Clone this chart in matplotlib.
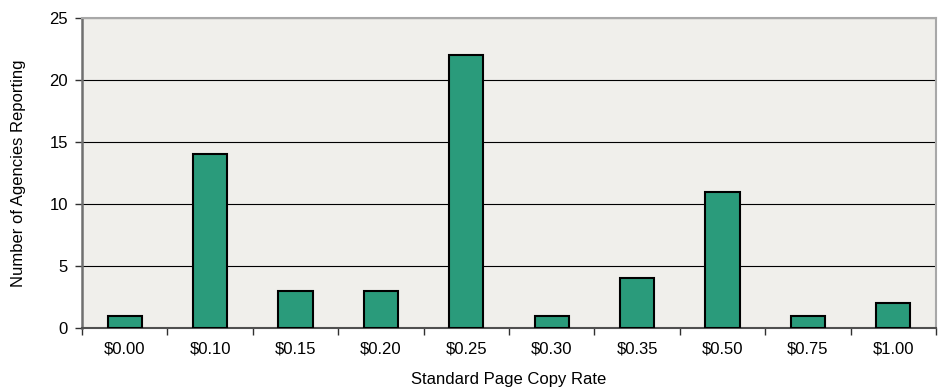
import matplotlib.pyplot as plt
import numpy as np

plt.rcParams['font.family'] = ['Liberation Sans', 'DejaVu Sans']

rates = ["$0.00", "$0.10", "$0.15", "$0.20", "$0.25", "$0.30", "$0.35", "$0.50", "$0.75", "$1.00"]
agencies = [1, 14, 3, 3, 22, 1, 4, 11, 1, 2]

fig = plt.figure(figsize=(9.4, 3.91), dpi=100)
ax = fig.add_axes([0.0872, 0.161, 0.9085, 0.793])
ax.set_facecolor("#F0EFEB")

x = np.arange(len(rates))
ax.bar(x, agencies, width=0.4, color="#2A9B7B", edgecolor="black", linewidth=1.5, zorder=3)

ax.set_xlim(-0.5, len(rates) - 0.5)
ax.set_ylim(0, 25)
ax.set_yticks(range(0, 26, 5))
ax.yaxis.grid(True, color="black", linewidth=0.8, zorder=1)

# category labels centered, tick marks between categories
ax.set_xticks(x)
ax.set_xticklabels(rates, fontsize=12)
ax.tick_params(axis="x", which="major", length=0, pad=10)
ax.set_xticks(np.arange(-0.5, len(rates)), minor=True)
ax.tick_params(axis="x", which="minor", length=5, width=1, color="#303030", direction="out")
ax.tick_params(axis="y", length=5, width=1, color="#303030", labelsize=12, pad=5)

for side in ("top", "right"):
    ax.spines[side].set_color("#A8A8A8")
    ax.spines[side].set_linewidth(1.5)
ax.spines["left"].set_color("#707070")
ax.spines["bottom"].set_color("#505050")
ax.spines["bottom"].set_linewidth(1.5)
ax.spines["left"].set_linewidth(1.8)

ax.set_xlabel("Standard Page Copy Rate", fontsize=12, labelpad=11)
ax.set_ylabel("Number of Agencies Reporting", fontsize=12, labelpad=17)

fig.savefig("out.png", dpi=100)
